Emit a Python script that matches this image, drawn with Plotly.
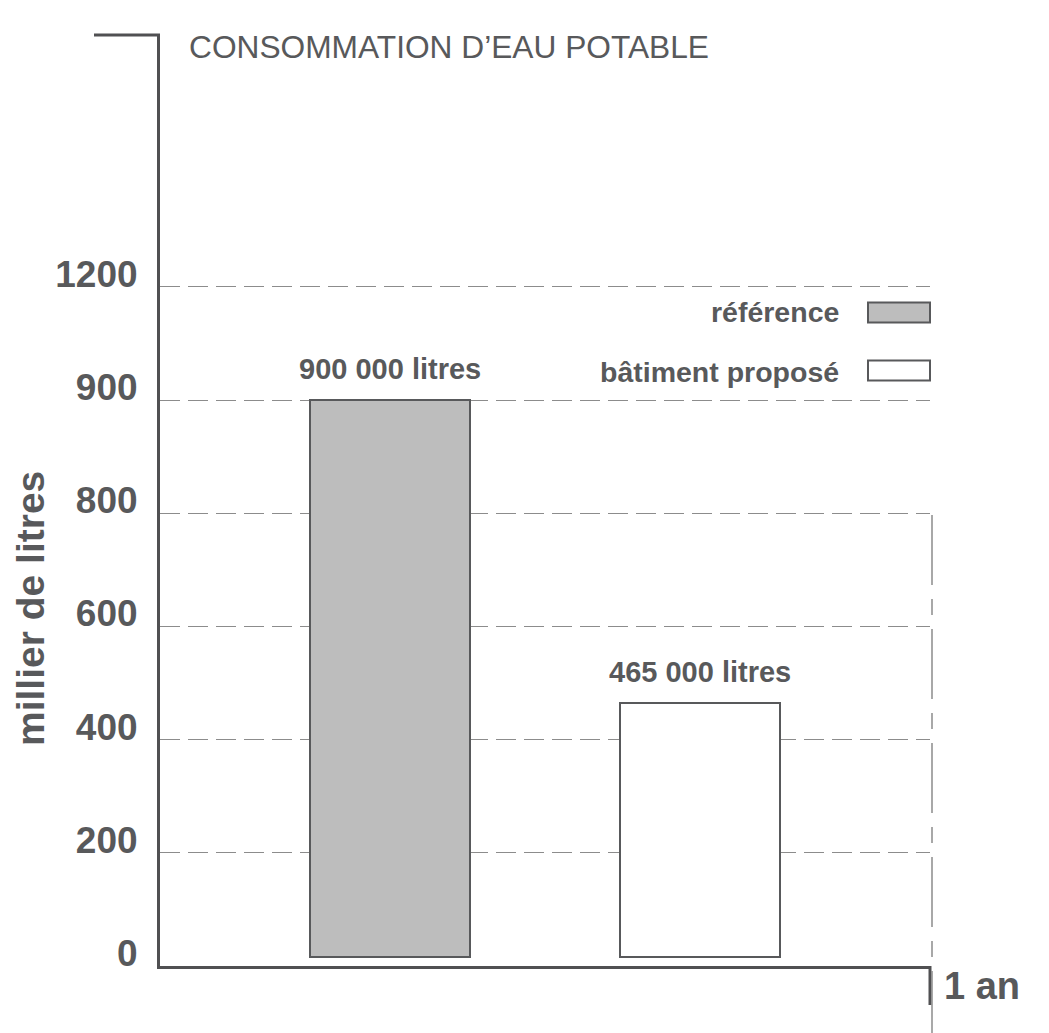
import numpy as np
import plotly.graph_objects as go

# ---- data ----
categories = ["référence", "bâtiment proposé"]
consumption = [900, 465]  # milliers de litres / an
bar_labels = ["900 000 litres", "465 000 litres"]
tick_values = [0, 200, 400, 600, 800, 900, 1200]
tick_labels = ["0", "200", "400", "600", "800", "900", "1200"]
title_text = "CONSOMMATION D’EAU POTABLE"
y_title = "millier de litres"
x_end_label = "1 an"

# ---- style ----
FONT = "Liberation Sans, Arial, Helvetica, sans-serif"
DARK = "#58595b"
AXIS = "#505052"
GRID = "#8c8c8c"
FILLS = ["#bdbdbd", "#ffffff"]
W, H = 1049, 1033
L, R, T, B = 160, 119, 35, 67
PW, PH = W - L - R, H - T - B
STEP = 113.2  # px per tick step
BAR_BASE = 0.08

# the chart uses evenly spaced ticks for uneven values: map through them
tick_pos = list(range(len(tick_values)))
bar_pos = np.interp(consumption, tick_values, tick_pos)
y_top = PH / STEP


def px_x(px):
    return (px - L) / PW


def px_y(py):
    return (H - B - py) / PH


fig = go.Figure()
fig.add_trace(go.Bar(
    x=categories,
    y=bar_pos - BAR_BASE,
    base=BAR_BASE,
    width=0.519,
    marker=dict(color=FILLS, line=dict(color=DARK, width=2)),
    hoverinfo="skip",
    showlegend=False,
))

annotations = []
for c, p, lab in zip(categories, bar_pos, bar_labels):
    annotations.append(dict(
        x=c, y=p, xref="x", yref="y", text=lab, showarrow=False,
        yanchor="bottom", yshift=13,
        font=dict(family=FONT, size=29, color=DARK, weight="bold"),
    ))

# y-axis title (rotated)
annotations.append(dict(
    x=px_x(30), y=px_y(609), xref="paper", yref="paper", text=y_title,
    showarrow=False, textangle=-90, xanchor="center", yanchor="middle",
    font=dict(family=FONT, size=39, color=DARK, weight="bold"),
))
# "1 an"
annotations.append(dict(
    x=px_x(942), y=px_y(986), xref="paper", yref="paper", text=x_end_label,
    showarrow=False, xanchor="left", yanchor="middle",
    font=dict(family=FONT, size=38, color=DARK, weight="bold"),
))

# custom legend: text on the left, swatch on the right
legend_rows = [(312, 312.5), (372, 370.5)]
shapes = []
for cat, fill, (ty, by) in zip(categories, FILLS, legend_rows):
    annotations.append(dict(
        x=px_x(841), y=px_y(ty), xref="paper", yref="paper", text=cat,
        showarrow=False, xanchor="right", yanchor="middle",
        font=dict(family=FONT, size=28.5, color=DARK, weight="bold"),
    ))
    shapes.append(dict(
        type="rect", xref="paper", yref="paper",
        x0=px_x(868), x1=px_x(930), y0=px_y(by + 10), y1=px_y(by - 10),
        fillcolor=fill, line=dict(color=DARK, width=2),
    ))

# top hook of the y axis
shapes.append(dict(type="line", xref="paper", yref="paper",
                   x0=px_x(94), x1=0, y0=1, y1=1,
                   line=dict(color=AXIS, width=3)))
# "1 an" tick mark
shapes.append(dict(type="line", xref="paper", yref="paper",
                   x0=1, x1=1, y0=0, y1=px_y(1005),
                   line=dict(color=AXIS, width=3)))
# dashed vertical guide at the right
shapes.append(dict(type="line", xref="paper", yref="paper",
                   x0=px_x(932), x1=px_x(932), y0=px_y(515), y1=px_y(1040),
                   line=dict(color=GRID, width=1.5, dash="70px,14px,16px,14px")))

fig.update_layout(
    width=W, height=H,
    margin=dict(l=L, r=R, t=T, b=B),
    paper_bgcolor="white", plot_bgcolor="white",
    title=dict(text=title_text, x=px_x(189), xref="paper", xanchor="left",
               y=1 - 47 / H, yref="container", yanchor="middle",
               font=dict(family=FONT, size=31.7, color=DARK)),
    xaxis=dict(range=[-0.742, 1.742], showticklabels=False, ticks="",
               showgrid=False, zeroline=False, showline=True,
               linecolor=AXIS, linewidth=3, fixedrange=True),
    yaxis=dict(range=[0, y_top], tickmode="array", tickvals=tick_pos[1:] + [0],
               ticktext=tick_labels[1:] + [tick_labels[0]],
               ticks="", ticklabelstandoff=12, ticklabelshift=-13,
               tickfont=dict(family=FONT, size=37, color=DARK, weight="bold"),
               showgrid=True, gridcolor=GRID, gridwidth=1, griddash="20px,8px",
               zeroline=False, showline=True, linecolor=AXIS, linewidth=3,
               fixedrange=True),
    annotations=annotations,
    shapes=shapes,
    bargap=0,
)

fig.write_html(
    "out.html",
    config={"displayModeBar": False},
    post_script="document.body.style.margin='0';document.body.style.overflow='hidden';",
)
